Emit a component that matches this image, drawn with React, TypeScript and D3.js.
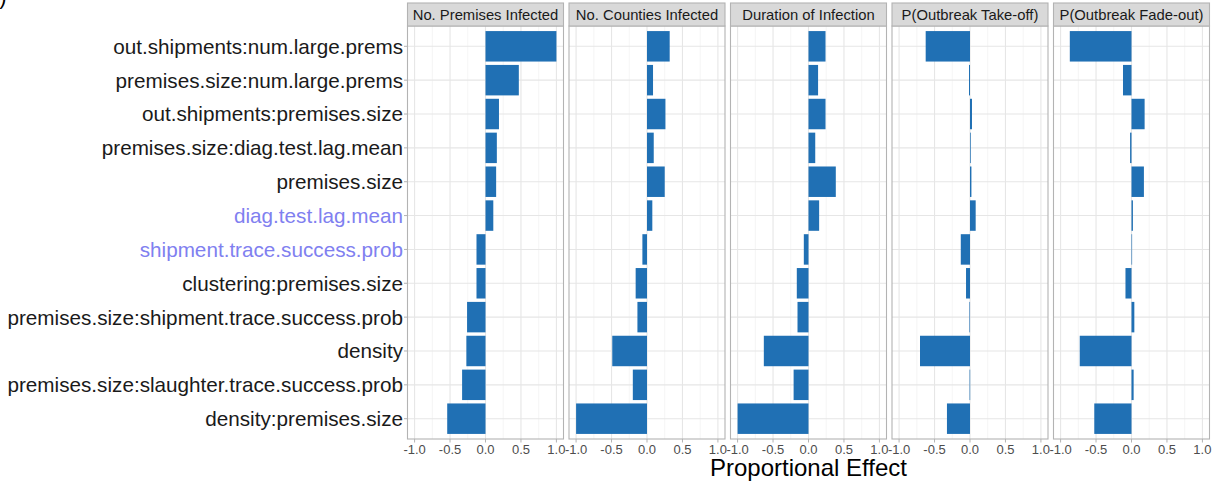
import React from "react";
import * as d3 from "d3";

const categories = [
  "out.shipments:num.large.prems",
  "premises.size:num.large.prems",
  "out.shipments:premises.size",
  "premises.size:diag.test.lag.mean",
  "premises.size",
  "diag.test.lag.mean",
  "shipment.trace.success.prob",
  "clustering:premises.size",
  "premises.size:shipment.trace.success.prob",
  "density",
  "premises.size:slaughter.trace.success.prob",
  "density:premises.size",
];
const highlighted = ["diag.test.lag.mean", "shipment.trace.success.prob"];

const panels = [
  "No. Premises Infected",
  "No. Counties Infected",
  "Duration of Infection",
  "P(Outbreak Take-off)",
  "P(Outbreak Fade-out)",
];

const premisesInfected = [1.0, 0.47, 0.19, 0.16, 0.15, 0.11, -0.127, -0.127, -0.26, -0.27, -0.33, -0.54];
const countiesInfected = [0.32, 0.085, 0.26, 0.095, 0.25, 0.075, -0.065, -0.16, -0.135, -0.49, -0.2, -1.0];
const durationInfection = [0.24, 0.135, 0.24, 0.095, 0.385, 0.15, -0.066, -0.165, -0.155, -0.63, -0.21, -1.0];
const takeOff = [-0.625, -0.014, 0.028, 0.01, 0.02, 0.08, -0.13, -0.056, -0.008, -0.705, -0.006, -0.325];
const fadeOut = [-0.87, -0.12, 0.185, -0.02, 0.175, 0.02, 0.005, -0.085, 0.04, -0.73, 0.03, -0.525];

const seriesList = [premisesInfected, countiesInfected, durationInfection, takeOff, fadeOut];
const xTicks = [-1.0, -0.5, 0.0, 0.5, 1.0];
const xMinor = [-0.75, -0.25, 0.25, 0.75];
const axisTitle = "Proportional Effect";

const W = 1221;
const H = 484;
const plotLeft = 407.5;
const plotRight = 1209.5;
const panelGap = 5.5;
const stripTop = 3;
const stripBottom = 26;
const panelBottom = 439;
const nP = panels.length;
const panelW = (plotRight - plotLeft - panelGap * (nP - 1)) / nP;

const font = "'Liberation Sans', Arial, Helvetica, sans-serif";

export default function App() {
  const y = d3
    .scalePoint<string>()
    .domain(categories)
    .range([stripBottom, panelBottom])
    .padding(0.6);
  const bandH = y.step() * 0.9;
  const yc = (c: string) => y(c) as number;

  return (
    <svg
      width={W}
      height={H}
      style={{ position: "absolute", left: 0, top: 0, background: "#fff" }}
      fontFamily={font}
    >
      <rect x={0} y={0} width={W} height={H} fill="#fff" />
      <text x={-13} y={4} fontSize={22} fill="#000">b)</text>
      {categories.map((c) => (
        <g key={c}>
          <text
            x={403}
            y={yc(c)}
            dy="0.36em"
            textAnchor="end"
            fontSize={20.7}
            fill={highlighted.includes(c) ? "#8080f0" : "#1a1a1a"}
          >
            {c}
          </text>
          <line x1={404} x2={407.5} y1={yc(c)} y2={yc(c)} stroke="#b3b3b3" strokeWidth={1} />
        </g>
      ))}
      {panels.map((p, i) => {
        const x0 = plotLeft + i * (panelW + panelGap);
        const x = d3.scaleLinear().domain([-1.1, 1.1]).range([x0, x0 + panelW]);
        const vals = seriesList[i];
        return (
          <g key={p}>
            <rect x={x0} y={stripBottom} width={panelW} height={panelBottom - stripBottom} fill="#fff" />
            {xMinor.map((t) => (
              <line key={"m" + t} x1={x(t)} x2={x(t)} y1={stripBottom} y2={panelBottom} stroke="#eeeeee" strokeWidth={0.6} />
            ))}
            {xTicks.map((t) => (
              <line key={"M" + t} x1={x(t)} x2={x(t)} y1={stripBottom} y2={panelBottom} stroke="#e6e6e6" strokeWidth={1.1} />
            ))}
            {categories.map((c) => (
              <line key={"h" + c} x1={x0} x2={x0 + panelW} y1={yc(c)} y2={yc(c)} stroke="#e6e6e6" strokeWidth={1.1} />
            ))}
            {categories.map((c, j) => {
              const v = vals[j];
              const xa = Math.min(x(0), x(v));
              const wv = Math.abs(x(v) - x(0));
              return (
                <rect
                  key={"b" + c}
                  x={xa}
                  y={yc(c) - bandH / 2}
                  width={Math.max(wv, 0.6)}
                  height={bandH}
                  fill="#2070b4"
                />
              );
            })}
            <rect
              x={x0}
              y={stripBottom}
              width={panelW}
              height={panelBottom - stripBottom}
              fill="none"
              stroke="#b3b3b3"
              strokeWidth={1.1}
            />
            <rect
              x={x0}
              y={stripTop}
              width={panelW}
              height={stripBottom - stripTop}
              fill="#d9d9d9"
              stroke="#b3b3b3"
              strokeWidth={1.1}
            />
            <text
              x={x0 + panelW / 2}
              y={(stripTop + stripBottom) / 2}
              dy="0.36em"
              textAnchor="middle"
              fontSize={14.8}
              fill="#1a1a1a"
            >
              {p}
            </text>
            {xTicks.map((t) => (
              <g key={"t" + t}>
                <line x1={x(t)} x2={x(t)} y1={panelBottom} y2={panelBottom + 3.5} stroke="#b3b3b3" strokeWidth={1} />
                <text
                  x={x(t)}
                  y={panelBottom + 10}
                  dy="0.36em"
                  textAnchor="middle"
                  fontSize={13}
                  fill="#4d4d4d"
                >
                  {d3.format(".1f")(t).replace("−", "-")}
                </text>
              </g>
            ))}
          </g>
        );
      })}
      <text x={(plotLeft + plotRight) / 2} y={476} textAnchor="middle" fontSize={24} fill="#000">
        {axisTitle}
      </text>
    </svg>
  );
}
